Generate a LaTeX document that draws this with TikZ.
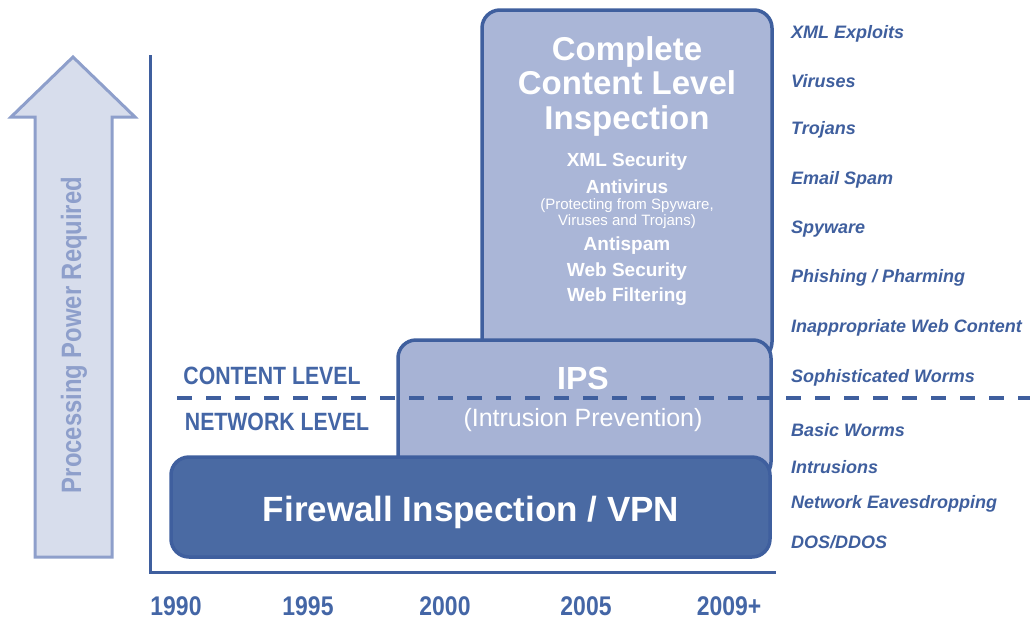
\documentclass[tikz,border=0pt]{standalone}
\usepackage{fontspec}
\setmainfont{Liberation Sans}
\newfontfamily\condf[FakeStretch=0.85]{Liberation Sans}
\definecolor{dkblue}{HTML}{3F5F9E}
\definecolor{fwfill}{HTML}{4A6AA3}
\definecolor{ipsfill}{HTML}{A7B3D5}
\definecolor{topfill}{HTML}{AAB6D7}
\definecolor{arrfill}{HTML}{D7DDEC}
\definecolor{arrline}{HTML}{8E9FCB}
\definecolor{lbl}{HTML}{4466A6}
\begin{document}
\begin{tikzpicture}[x=1pt,y=-1pt,
  box/.style={draw=dkblue,line width=3.5pt,rounded corners=18pt,rectangle,inner sep=0pt},
  threat/.style={anchor=west,text=dkblue,font=\fontsize{18}{20}\selectfont\bfseries\itshape,inner sep=0pt},
  year/.style={text=lbl,font=\condf\fontsize{27}{28}\selectfont\bfseries,inner sep=0pt},
  level/.style={text=lbl,font=\condf\fontsize{25}{26}\selectfont\bfseries,inner sep=0pt},
  wt/.style={text=white,inner sep=0pt,align=center},
  sub/.style={wt,font=\fontsize{19}{20}\selectfont\bfseries},
  small/.style={wt,font=\fontsize{15}{16}\selectfont}
]
\useasboundingbox (0,0) rectangle (1033,619);
% processing arrow
\draw[fill=arrfill,draw=arrline,line width=3pt,line join=miter]
  (35,557) -- (35,117) -- (11,117) -- (73,57) -- (135,117) -- (112,117) -- (112,557) -- cycle;
\node[rotate=90,text=arrline,font=\condf\fontsize{28}{30}\selectfont\bfseries,inner sep=0pt] (ppr) at (74,335) {Processing Power Required};
% axes
\coordinate (ytop) at (150,55);
\coordinate (orig) at (150,572);
\coordinate (xend) at (776,572);
\draw[dkblue,line width=3pt] (ytop) -- (orig) -- (xend);
% boxes
\node[box,fill=topfill,minimum width=290pt,minimum height=350pt] (top) at (627,185) {};
\node[box,fill=ipsfill,minimum width=373pt,minimum height=140pt] (ips) at (584.5,410) {};
% dashed level line
\coordinate (dl) at (177,398);
\coordinate (dr) at (1030,398);
\draw[dkblue,line width=4pt,dash pattern=on 15pt off 14pt] (dl) -- (dr);
\node[box,fill=fwfill,draw=dkblue,minimum width=599pt,minimum height=100pt] (fw) at (470.5,507) {};
% box texts
\node[wt,font=\fontsize{33}{34.5}\selectfont\bfseries] (title) at (627,86) {Complete\\Content Level\\Inspection};
\node[sub] (xmls) at (627,162) {XML Security};
\node[sub] (av) at (627,187) {Antivirus};
\node[small] (prot) at (627,214) {(Protecting from Spyware,\\Viruses and Trojans)};
\node[sub] (as) at (627,246) {Antispam};
\node[sub] (ws) at (627,272) {Web Security};
\node[sub] (wf) at (627,297) {Web Filtering};
\node[wt,font=\fontsize{32}{34}\selectfont\bfseries] (ipst) at (583,378) {IPS};
\node[wt,font=\fontsize{25}{27}\selectfont] (ipsd) at (583,420) {(Intrusion Prevention)};
\node[wt,font=\fontsize{35}{37}\selectfont\bfseries] (fwt) at (471,512) {Firewall Inspection / VPN};
% level labels
\node[level] (cl) at (272,376) {CONTENT LEVEL};
\node[level] (nl) at (277,422) {NETWORK LEVEL};
% years
\node[year] (y1) at (176,606) {1990};
\node[year] (y2) at (308,606) {1995};
\node[year] (y3) at (445,606) {2000};
\node[year] (y4) at (586,606) {2005};
\node[year] (y5) at (729,606) {2009+};
% threats
\node[threat] (t1) at (791,34) {XML Exploits};
\node[threat] (t2) at (791,81) {Viruses};
\node[threat] (t3) at (791,130) {Trojans};
\node[threat] (t4) at (791,180) {Email Spam};
\node[threat] (t5) at (791,229) {Spyware};
\node[threat] (t6) at (791,278) {Phishing / Pharming};
\node[threat] (t7) at (791,328) {Inappropriate Web Content};
\node[threat] (t8) at (791,378) {Sophisticated Worms};
\node[threat] (t9) at (791,430) {Basic Worms};
\node[threat] (t10) at (791,467) {Intrusions};
\node[threat] (t11) at (791,504) {Network Eavesdropping};
\node[threat] (t12) at (791,542) {DOS/DDOS};
\end{tikzpicture}
\end{document}
